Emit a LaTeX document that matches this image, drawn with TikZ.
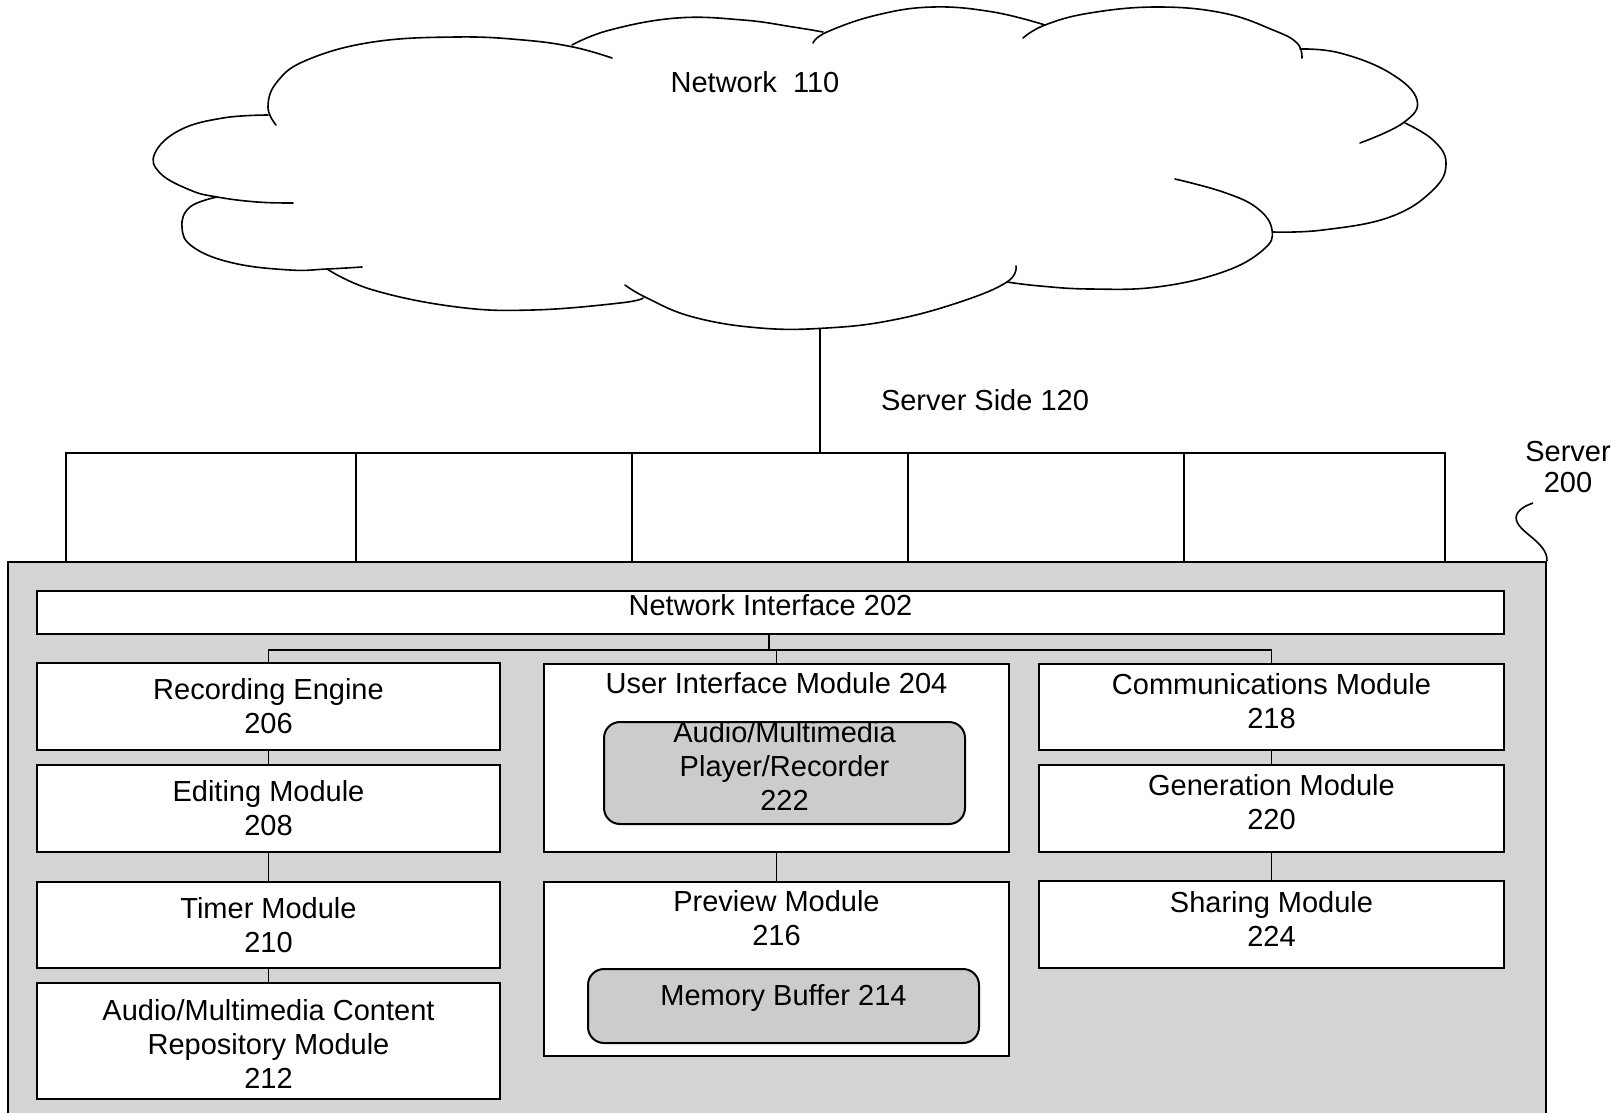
\documentclass[tikz,border=0pt]{standalone}
\usepackage{fontspec}
\setmainfont{Liberation Sans}
\usetikzlibrary{fit,calc}
\definecolor{srvgray}{gray}{0.83}
\definecolor{boxgray}{gray}{0.80}

\begin{document}
\begin{tikzpicture}[x=0.5pt,y=-0.5pt,
  every node/.style={font=\fontsize{14.5}{17}\selectfont},
  frame/.style={draw, line width=1pt, inner sep=0pt, rectangle},
  module/.style={frame, fill=white},
  shaded/.style={frame, fill=boxgray, rounded corners=8pt},
  txt/.style={align=center, inner sep=0pt},
  link/.style={line width=0.8pt},
  cloudline/.style={line width=0.8pt, line cap=round}
]
\useasboundingbox (0,0) rectangle (1624,1113);

% ---- network cloud, drawn as overlapping bumps ----
\begin{scope}[cloudline]
% top left
\draw plot[smooth, tension=0.7] coordinates {(276,125) (268,107) (277,82) (307,60) (373,42) (457,37) (523,40) (573,47) (612,58)};
% top middle
\draw plot[smooth, tension=0.7] coordinates {(572,45) (610,30) (677,18) (743,20) (793,27) (823,32)};
\draw plot[smooth, tension=0.7] coordinates {(813,43) (827,32) (877,15) (933,7) (993,12) (1045,25)};
% top right
\draw plot[smooth, tension=0.7] coordinates {(1023,38) (1045,25) (1090,13) (1157,7) (1223,13) (1273,30) (1297,43) (1302,58)};
% right upper
\draw plot[smooth, tension=0.7] coordinates {(1300,49) (1340,53) (1390,73) (1417,100) (1403,123) (1360,143)};
% right lower
\draw plot[smooth, tension=0.7] coordinates {(1405,123) (1433,140) (1446,163) (1433,190) (1390,217) (1323,230) (1273,232)};
% bottom right
\draw plot[smooth, tension=0.7] coordinates {(1175,179) (1223,192) (1257,208) (1272,230) (1263,250) (1223,272) (1157,287) (1090,289) (1040,286) (1007,282)};
% bottom middle
\draw plot[smooth, tension=0.7] coordinates {(1016,266) (1007,282) (960,302) (893,320) (827,328) (760,328) (693,317) (647,298) (625,285)};
% bottom left
\draw plot[smooth, tension=0.7] coordinates {(643,298) (620,303) (533,310) (457,307) (373,290) (327,269)};
% left lower
\draw plot[smooth, tension=0.7] coordinates {(362,267) (327,269) (290,270) (233,263) (193,247) (182,227) (190,207) (217,197)};
% left middle
\draw plot[smooth, tension=0.7] coordinates {(293,203) (257,202) (217,197) (190,190) (160,173) (155,153) (180,130) (223,118) (268,115)};
\end{scope}
\coordinate (cloudbot) at (820,328);
\node[txt] (netlbl) at (755,82) {Network\ \ 110};
\node[txt] (sidelbl) at (985,400) {Server Side 120};

% ---- server side connection row ----
\node[frame, fit={(66,453) (356,562)}] (cell1) {};
\node[frame, fit={(356,453) (632,562)}] (cell2) {};
\node[frame, fit={(632,453) (908,562)}] (cell3) {};
\node[frame, fit={(908,453) (1184,562)}] (cell4) {};
\node[frame, fit={(1184,453) (1445,562)}] (cell5) {};
\draw[link] (cloudbot) -- (cloudbot |- cell3.north);

% ---- server ----
\node[frame, fill=srvgray, fit={(8,562) (1546,1140)}] (server) {};
\node[txt, font=\fontsize{14.5}{15.5}\selectfont] (srvlbl) at (1568,467) {Server\\200};
\draw[link] (server.north east) .. controls (1548,540) and (1510,530) .. (1517,514)
  .. controls (1521,507) and (1528,505) .. (1533,503);

\node[module, fit={(37,591) (1504,634)}] (ni) {};
\node[txt] at ($(ni.center)+(0,-7)$) {Network Interface 202};

% left column
\node[module, fit={(37,663) (500,750)}] (rec) {};
\node[txt] at (rec.center) {Recording Engine\\206};
\node[module, fit={(37,765) (500,852)}] (edit) {};
\node[txt] at (edit.center) {Editing Module\\208};
\node[module, fit={(37,882) (500,968)}] (timer) {};
\node[txt] at (timer.center) {Timer Module\\210};
\node[module, fit={(37,983) (500,1099)}] (repo) {};
\node[txt] at ($(repo.center)+(0,3)$) {Audio/Multimedia Content\\Repository Module\\212};

% middle column
\node[module, fit={(544,664) (1009,852)}] (uim) {};
\node[txt] at ($(uim.north)+(0,20)$) {User Interface Module 204};
\node[shaded, fit={(604,722) (965,824)}] (player) {};
\node[txt] at ($(player.center)+(0,-7)$) {Audio/Multimedia\\Player/Recorder\\222};
\node[module, fit={(544,882) (1009,1056)}] (prev) {};
\node[txt] at ($(prev.north)+(0,37)$) {Preview Module\\216};
\node[shaded, fit={(588,969) (979,1043)}] (membuf) {};
\node[txt] at ($(membuf.center)+(0,-8)$) {Memory Buffer 214};

% right column
\node[module, fit={(1039,664) (1504,750)}] (comm) {};
\node[txt] at ($(comm.center)+(0,-6)$) {Communications Module\\218};
\node[module, fit={(1039,765) (1504,852)}] (gen) {};
\node[txt] at ($(gen.center)+(0,-6)$) {Generation Module\\220};
\node[module, fit={(1039,881) (1504,968)}] (share) {};
\node[txt] at ($(share.center)+(0,-6)$) {Sharing Module\\224};

% internal bus
\coordinate (busy) at (0,650);
\coordinate (nidrop) at (769,650);
\draw[link] (rec.north) -- (rec.north |- busy) -- (comm.north |- busy) -- (comm.north);
\draw[link] (ni.south -| nidrop) -- (nidrop);
\draw[link] (uim.north) -- (uim.north |- busy);
\draw[link] (rec) -- (edit);
\draw[link] (edit) -- (timer);
\draw[link] (timer) -- (repo);
\draw[link] (uim) -- (prev);
\draw[link] (comm) -- (gen);
\draw[link] (gen) -- (share);
\end{tikzpicture}
\end{document}
